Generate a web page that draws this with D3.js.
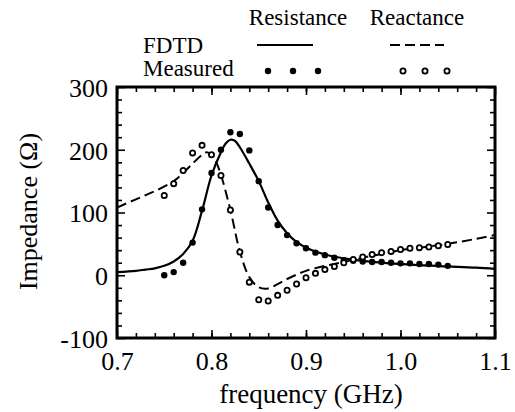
<!DOCTYPE html>
<html>
<head>
<meta charset="utf-8">
<script src="https://cdn.jsdelivr.net/npm/d3@7"></script>
</head>
<body style="margin:0">
<svg id="chart" width="515" height="412" style="font-family: 'Liberation Serif'"></svg>
<script>
// measured points (GHz)
const measFreq = [0.75, 0.76, 0.77, 0.78, 0.79, 0.80, 0.81, 0.82, 0.83, 0.84, 0.85,
  0.86, 0.87, 0.88, 0.89, 0.90, 0.91, 0.92, 0.93, 0.94, 0.95, 0.96, 0.97, 0.98,
  0.99, 1.00, 1.01, 1.02, 1.03, 1.04, 1.05];
const measResistance = [0, 5, 20, 52, 105, 163, 200, 228, 225, 199, 150,
  108, 80, 64, 51, 43, 36, 32, 28, 24, 23, 22, 21, 21,
  20, 19, 19, 18, 18, 17, 15];
const measReactance = [127, 146, 167, 195, 207, 192, 159, 104, 37, -11, -39,
  -41, -32, -24, -14, -4, 3, 9, 14, 20, 25, 29, 33, 36,
  38, 41, 43, 44, 45, 47, 49];

// FDTD curves
const fdtdResFreq = [0.70, 0.72, 0.73, 0.74, 0.75, 0.76, 0.77, 0.78, 0.79, 0.80, 0.81, 0.815,
  0.82, 0.825, 0.83, 0.84, 0.85, 0.86, 0.87, 0.88, 0.89, 0.90, 0.92, 0.94,
  0.96, 0.98, 1.00, 1.02, 1.05, 1.08, 1.10];
const fdtdResistance = [5, 7, 9, 11, 15, 22, 34, 55, 103, 159, 196, 210,
  216, 214, 204, 178, 150, 116, 87, 67, 53, 44, 33, 27,
  23, 20, 18, 16, 14, 12, 10];

const fdtdReaFreq = [0.70, 0.72, 0.74, 0.76, 0.77, 0.78, 0.79, 0.795, 0.80, 0.805, 0.81,
  0.82, 0.83, 0.84, 0.85, 0.86, 0.87, 0.88, 0.89, 0.90, 0.92, 0.94, 0.96,
  0.98, 1.00, 1.02, 1.05, 1.08, 1.10];
const fdtdReactance = [108, 121, 134, 150, 163, 178, 192, 196, 192, 180, 160,
  104, 38, -3, -19, -21, -14, -6, 1, 7, 15, 21, 28,
  34, 40, 44, 50, 58, 64];

const xTicks = [0.7, 0.8, 0.9, 1.0, 1.1];
const yTicks = [-100, 0, 100, 200, 300];

const chart = d3.select("#chart");

// plot box
const margin = { top: 87, right: 20, bottom: 74, left: 117 };
const W = 515, H = 412;
const xs = d3.scaleLinear().domain([0.7, 1.1]).range([margin.left, W - margin.right]);
const ys = d3.scaleLinear().domain([-100, 300]).range([H - margin.bottom, margin.top]);

const xMinor = d3.range(0.72, 1.09, 0.02);
const yMinor = d3.range(-80, 300, 20).filter(v => v % 100 !== 0);

// ticks, all pointing inward
function addAxis(axis, tx, ty) {
  const g = chart.append("g")
    .attr("transform", `translate(${tx},${ty})`)
    .call(axis);
  g.select(".domain").remove();
  g.attr("font-family", null);
  g.selectAll("line").attr("stroke", "#000").attr("stroke-width", 1.6);
  g.selectAll("text").attr("fill", "#000");
  return g;
}

const yBot = ys(-100), yTop = ys(300), xLeft = xs(0.7), xRight = xs(1.1);

addAxis(d3.axisBottom(xs).tickValues(xMinor).tickSize(-5).tickFormat(""), 0, yBot);
addAxis(d3.axisTop(xs).tickValues(xMinor).tickSize(-5).tickFormat(""), 0, yTop);
addAxis(d3.axisLeft(ys).tickValues(yMinor).tickSize(-5).tickFormat(""), xLeft, 0);
addAxis(d3.axisRight(ys).tickValues(yMinor).tickSize(-5).tickFormat(""), xRight, 0);

const xAx = addAxis(d3.axisBottom(xs).tickValues(xTicks).tickSize(-8).tickPadding(14)
  .tickFormat(d3.format(".1f")), 0, yBot);
addAxis(d3.axisTop(xs).tickValues(xTicks).tickSize(-8).tickFormat(""), 0, yTop);
const yAx = addAxis(d3.axisLeft(ys).tickValues(yTicks).tickSize(-8).tickPadding(9)
  .tickFormat(d => String(d)), xLeft, 0);
addAxis(d3.axisRight(ys).tickValues(yTicks).tickSize(-8).tickFormat(""), xRight, 0);

xAx.selectAll("text").attr("font-size", 26);
yAx.selectAll("text").attr("font-size", 26).attr("dy", "0.36em");

// clip for the curves
chart.append("clipPath").attr("id", "plotclip")
  .append("rect")
  .attr("x", xLeft).attr("y", yTop)
  .attr("width", xRight - xLeft).attr("height", yBot - yTop);

const lineGen = d3.line()
  .x(d => xs(d[0]))
  .y(d => ys(d[1]))
  .curve(d3.curveCatmullRom.alpha(0.5));

const plot = chart.append("g").attr("clip-path", "url(#plotclip)");

plot.append("path")
  .attr("d", lineGen(d3.zip(fdtdResFreq, fdtdResistance)))
  .attr("fill", "none")
  .attr("stroke", "#000")
  .attr("stroke-width", 2.2);

plot.append("path")
  .attr("d", lineGen(d3.zip(fdtdReaFreq, fdtdReactance)))
  .attr("fill", "none")
  .attr("stroke", "#000")
  .attr("stroke-width", 2)
  .attr("stroke-dasharray", "10,5");

// measured resistance: filled dots
plot.selectAll(".mres")
  .data(d3.zip(measFreq, measResistance))
  .join("circle")
  .attr("class", "mres")
  .attr("cx", d => xs(d[0]))
  .attr("cy", d => ys(d[1]))
  .attr("r", 3.2)
  .attr("fill", "#000");

// measured reactance: open circles
plot.selectAll(".mrea")
  .data(d3.zip(measFreq, measReactance))
  .join("circle")
  .attr("class", "mrea")
  .attr("cx", d => xs(d[0]))
  .attr("cy", d => ys(d[1]))
  .attr("r", 2.6)
  .attr("fill", "#fff")
  .attr("stroke", "#000")
  .attr("stroke-width", 1.8);

// frame
chart.append("rect")
  .attr("x", xLeft).attr("y", yTop)
  .attr("width", xRight - xLeft).attr("height", yBot - yTop)
  .attr("fill", "none")
  .attr("stroke", "#000")
  .attr("stroke-width", 3);

// axis titles
chart.append("text")
  .attr("x", (xLeft + xRight) / 2 + 5)
  .attr("y", 403)
  .attr("text-anchor", "middle")
  .attr("font-size", 27)
  .text("frequency (GHz)");

chart.append("text")
  .attr("transform", `translate(37,${(yTop + yBot) / 2 - 1}) rotate(-90)`)
  .attr("text-anchor", "middle")
  .attr("font-size", 26)
  .text("Impedance (Ω)");

// legend
const lg = chart.append("g");
function legendText(tx, ty, s, anchor) {
  lg.append("text").attr("x", tx).attr("y", ty)
    .attr("text-anchor", anchor)
    .attr("font-size", 23)
    .text(s);
}
legendText(298, 25, "Resistance", "middle");
legendText(417, 25, "Reactance", "middle");
legendText(143, 53, "FDTD", "start");
legendText(143, 76, "Measured", "start");

lg.append("line")
  .attr("x1", 257).attr("x2", 313).attr("y1", 45).attr("y2", 45)
  .attr("stroke", "#000").attr("stroke-width", 2.2);
lg.append("line")
  .attr("x1", 390).attr("x2", 444).attr("y1", 45).attr("y2", 45)
  .attr("stroke", "#000").attr("stroke-width", 2.2)
  .attr("stroke-dasharray", "10,5");

[268, 293, 318].forEach(cx => {
  lg.append("circle").attr("cx", cx).attr("cy", 71).attr("r", 3.2).attr("fill", "#000");
});
[403, 425, 447].forEach(cx => {
  lg.append("circle").attr("cx", cx).attr("cy", 71).attr("r", 2.6)
    .attr("fill", "#fff").attr("stroke", "#000").attr("stroke-width", 1.8);
});
</script>
</body>
</html>
